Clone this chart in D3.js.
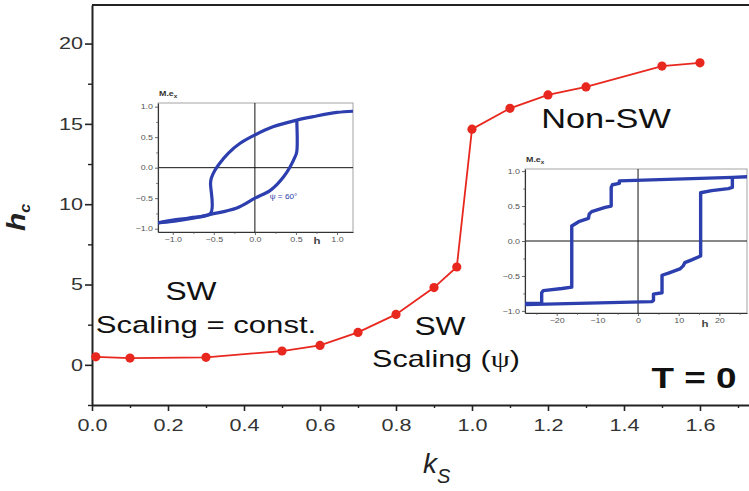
<!DOCTYPE html>
<html>
<head>
<meta charset="utf-8">
<script src="https://cdn.jsdelivr.net/npm/d3@7"></script>
<style>
  body { margin: 0; background: #fff; }
  svg { display: block; }
  text { font-family: "Liberation Sans", Arial, Helvetica, sans-serif; }
</style>
</head>
<body>
<svg id="chart" width="749" height="491"></svg>
<script>
// ---- coercive field h_c versus surface anisotropy k_S ----
const ks = [0.01, 0.1, 0.3, 0.5, 0.6, 0.7, 0.8, 0.9, 0.96, 1.0, 1.1, 1.2, 1.3, 1.5, 1.6];
const hc = [0.5, 0.42, 0.47, 0.86, 1.21, 2.02, 3.14, 4.81, 6.09, 14.67, 15.97, 16.8, 17.3, 18.6, 18.8];

const xTicks = [0, 0.2, 0.4, 0.6, 0.8, 1.0, 1.2, 1.4, 1.6];
const xMinor = [0.1, 0.3, 0.5, 0.7, 0.9, 1.1, 1.3, 1.5, 1.7];
const yTicks = [0, 5, 10, 15, 20];
const yMinor = [-2.5, 2.5, 7.5, 12.5, 17.5];

// ---- left inset: SW hysteresis loop, psi = 60 deg (h, M.e_x) ----
const loop1Down = [[1.195, 0.925], [1.0, 0.905], [0.71, 0.836], [0.51, 0.78], [0.22, 0.67], [0, 0.536],
  [-0.18, 0.40], [-0.325, 0.236], [-0.43, 0.07], [-0.49, -0.05], [-0.53, -0.17], [-0.54, -0.25],
  [-0.54, -0.748], [-0.79, -0.82], [-1.0, -0.86], [-1.18, -0.905]];
const loop1Up = [[-1.18, -0.905], [-1.0, -0.88], [-0.79, -0.835], [-0.54, -0.765], [-0.22, -0.66], [0, -0.5],
  [0.18, -0.38], [0.265, -0.28], [0.35, -0.15], [0.43, 0.016], [0.49, 0.18], [0.51, 0.26],
  [0.51, 0.78]];
const inset1XTicks = [-1.0, -0.5, 0.0, 0.5, 1.0];
const inset1YTicks = [-1.0, -0.5, 0.0, 0.5, 1.0];

// ---- right inset: stepped non-SW loop (h, M.e_x) ----
const loop2Down = [[27, 0.92], [23.2, 0.91], [-4.6, 0.86], [-4.6, 0.824], [-6.3, 0.805], [-6.6, 0.767],
  [-6.6, 0.50], [-8.1, 0.48], [-11.4, 0.42], [-12.0, 0.386], [-12.2, 0.324], [-14.6, 0.276],
  [-16.3, 0.214], [-16.3, -0.66], [-18.7, -0.68], [-23.3, -0.71], [-23.7, -0.74], [-23.7, -0.89],
  [-27.8, -0.895]];
const loop2Up = [[-27.8, -0.91], [3.4, -0.867], [3.8, -0.85], [3.8, -0.76], [5.9, -0.74], [5.9, -0.49],
  [7.5, -0.46], [10.3, -0.40], [11.1, -0.356], [11.5, -0.31], [13.2, -0.27], [15.4, -0.214],
  [15.4, 0.69], [18.1, 0.72], [22.2, 0.75], [23.2, 0.767], [23.2, 0.91]];
const inset2XTicks = [-20, -10, 0, 10, 20];
const inset2YTicks = [-1.0, -0.5, 0.0, 0.5, 1.0];

const SX = 1.27;          // horizontal widening of the lettering
const RED = "#e8281f";
const BLUE = "#2d3fae";
const INK = "#222";

const svg = d3.select("#chart");
svg.append("rect").attr("width", 749).attr("height", 491).attr("fill", "#fff");

// ---- main scales ----
const x = d3.scaleLinear().domain([0, 1.729]).range([92, 749]);
const y = d3.scaleLinear().domain([-2.5, 22.4]).range([405, 5]);

// top frame line
svg.append("line")
  .attr("x1", x(0)).attr("x2", x(1.729))
  .attr("y1", y(22.4)).attr("y2", y(22.4))
  .attr("stroke", INK).attr("stroke-width", 2);

// x axis
const gx = svg.append("g").attr("transform", `translate(0,${y(-2.5)})`)
  .call(d3.axisBottom(x).tickValues(xTicks).tickFormat(d3.format(".1f"))
    .tickSize(6).tickSizeOuter(0).tickPadding(8));
gx.select(".domain").attr("stroke", INK).attr("stroke-width", 2);
gx.selectAll(".tick line").attr("stroke", INK).attr("stroke-width", 1.6);
gx.selectAll(".tick text").attr("font-size", 17).attr("fill", "#333")
  .attr("font-family", null).attr("transform", `scale(${SX},1)`);
svg.append("g").attr("transform", `translate(0,${y(-2.5)})`)
  .call(d3.axisBottom(x).tickValues(xMinor).tickFormat("").tickSize(3).tickSizeOuter(0))
  .call(g => g.select(".domain").remove())
  .selectAll("line").attr("stroke", INK).attr("stroke-width", 1.4);

// y axis
const gy = svg.append("g").attr("transform", `translate(${x(0)},0)`)
  .call(d3.axisLeft(y).tickValues(yTicks).tickSize(7).tickSizeOuter(0).tickPadding(2));
gy.select(".domain").attr("stroke", INK).attr("stroke-width", 2);
gy.selectAll(".tick line").attr("stroke", INK).attr("stroke-width", 1.6);
gy.selectAll(".tick text").attr("font-size", 17).attr("fill", "#333")
  .attr("font-family", null).attr("x", -9 / SX).attr("transform", `scale(${SX},1)`);
svg.append("g").attr("transform", `translate(${x(0)},0)`)
  .call(d3.axisLeft(y).tickValues(yMinor).tickFormat("").tickSize(4).tickSizeOuter(0))
  .call(g => g.select(".domain").remove())
  .selectAll("line").attr("stroke", INK).attr("stroke-width", 1.4);

// axis titles
const yt = svg.append("text")
  .attr("transform", "translate(25,231) rotate(-90) scale(1.15,1)")
  .attr("fill", INK).attr("font-weight", "bold").attr("font-style", "italic");
yt.append("tspan").attr("font-size", 26).text("h");
yt.append("tspan").attr("font-size", 14).attr("dy", 5).text("c");

const xt = svg.append("text").attr("x", 423).attr("y", 473)
  .attr("fill", INK).attr("font-style", "italic");
xt.append("tspan").attr("font-size", 28).text("k");
xt.append("tspan").attr("font-size", 20).attr("dy", 10).text("S");

// ---- data curve ----
const pts = ks.map((k, i) => ({ k, h: hc[i] }));
svg.append("path").datum(pts)
  .attr("fill", "none").attr("stroke", RED).attr("stroke-width", 1.8)
  .attr("d", d3.line().x(d => x(d.k)).y(d => y(d.h)));
svg.append("g").selectAll("circle").data(pts).join("circle")
  .attr("cx", d => x(d.k)).attr("cy", d => y(d.h)).attr("r", 4.6)
  .attr("fill", RED);

// ---- annotations ----
function label(tx, ty, str, size, weight) {
  return svg.append("text")
    .attr("transform", `translate(${tx},${ty}) scale(${SX},1)`)
    .attr("text-anchor", "middle").attr("font-size", size)
    .attr("font-weight", weight || "normal").attr("fill", "#111").text(str);
}
label(191, 300, "SW", 25);
label(206, 333, "Scaling = const.", 24.5);
label(440, 335, "SW", 25);
const sc = label(446, 367, "Scaling ", 24);
sc.append("tspan").text("(");
sc.append("tspan").attr("font-family", "'Liberation Serif', 'DejaVu Serif', serif").text("\u03C8");
sc.append("tspan").text(")");
label(606, 128, "Non-SW", 27);
label(694, 388, "T = 0", 29, "bold");

// ---- insets ----
function drawInset(cfg) {
  const g = svg.append("g");
  const xs = d3.scaleLinear().domain(cfg.xDom).range([cfg.left, cfg.right]);
  const ys = d3.scaleLinear().domain(cfg.yDom).range([cfg.bottom, cfg.top]);
  const id = cfg.id;

  g.append("rect").attr("x", cfg.left).attr("y", cfg.top)
    .attr("width", cfg.right - cfg.left).attr("height", cfg.bottom - cfg.top)
    .attr("fill", "#fff").attr("stroke", "#9a9a9a").attr("stroke-width", 0.9);

  // cross hairs through the origin
  g.append("line").attr("x1", xs(0)).attr("x2", xs(0)).attr("y1", cfg.top).attr("y2", cfg.bottom)
    .attr("stroke", "#111").attr("stroke-width", 1);
  g.append("line").attr("x1", cfg.left).attr("x2", cfg.right).attr("y1", ys(0)).attr("y2", ys(0))
    .attr("stroke", "#111").attr("stroke-width", 1);

  // axes
  const ax = g.append("g").attr("transform", `translate(0,${cfg.bottom})`)
    .call(d3.axisBottom(xs).tickValues(cfg.xTicks).tickFormat(cfg.xFmt)
      .tickSize(3).tickSizeOuter(0).tickPadding(2.5));
  const ay = g.append("g").attr("transform", `translate(${cfg.left},0)`)
    .call(d3.axisLeft(ys).tickValues(cfg.yTicks).tickFormat(d3.format(".1f"))
      .tickSize(3).tickSizeOuter(0).tickPadding(2));
  [ax, ay].forEach(a => {
    a.select(".domain").attr("stroke", "#333").attr("stroke-width", 1.1);
    a.selectAll(".tick line").attr("stroke", "#444").attr("stroke-width", 0.8);
    a.selectAll(".tick text").attr("font-size", 7).attr("fill", "#555").attr("font-family", null);
  });
  ax.selectAll(".tick text").attr("transform", `scale(${SX},1)`);
  ay.selectAll(".tick text").attr("x", -5 / SX).attr("transform", `scale(${SX},1)`);

  // minor ticks
  g.append("g").attr("transform", `translate(0,${cfg.bottom})`)
    .call(d3.axisBottom(xs).tickValues(cfg.xMinor).tickFormat("").tickSize(2).tickSizeOuter(0))
    .call(s => s.select(".domain").remove())
    .selectAll("line").attr("stroke", "#555").attr("stroke-width", 0.7);
  g.append("g").attr("transform", `translate(${cfg.left},0)`)
    .call(d3.axisLeft(ys).tickValues(cfg.yMinor).tickFormat("").tickSize(2).tickSizeOuter(0))
    .call(s => s.select(".domain").remove())
    .selectAll("line").attr("stroke", "#555").attr("stroke-width", 0.7);

  // axis names
  const m = g.append("text").attr("transform", `translate(${cfg.left + 1},${cfg.top - 7}) scale(${SX},1)`)
    .attr("font-size", 7).attr("font-weight", "bold").attr("fill", "#333");
  m.append("tspan").text("M.e");
  m.append("tspan").attr("font-size", 5).attr("dy", 2).text("x");
  g.append("text").attr("transform", `translate(${cfg.hPos[0]},${cfg.hPos[1]}) scale(${SX},1)`)
    .attr("font-size", 9).attr("font-weight", "bold").attr("fill", "#444")
    .attr("text-anchor", "middle").text("h");

  // loop branches
  g.append("clipPath").attr("id", id).append("rect")
    .attr("x", cfg.left).attr("y", cfg.top)
    .attr("width", cfg.right - cfg.left).attr("height", cfg.bottom - cfg.top);
  const line = d3.line().x(d => xs(d[0])).y(d => ys(d[1])).curve(cfg.curve);
  cfg.branches.forEach(b => {
    g.append("path").datum(b).attr("clip-path", `url(#${id})`)
      .attr("fill", "none").attr("stroke", BLUE).attr("stroke-width", cfg.lw)
      .attr("stroke-linejoin", "round").attr("d", line);
  });
  return { g, xs, ys };
}

const in1 = drawInset({
  id: "clip-in1", left: 158, right: 353, top: 103, bottom: 232,
  xDom: [-1.18, 1.195], yDom: [-1.054, 1.06],
  xTicks: inset1XTicks, yTicks: inset1YTicks, xFmt: d3.format(".1f"),
  xMinor: [-0.75, -0.25, 0.25, 0.75], yMinor: [-0.75, -0.25, 0.25, 0.75],
  hPos: [317, 244], branches: [loop1Down, loop1Up], lw: 3.2,
  curve: d3.curveCatmullRom.alpha(0.5)
});
in1.g.append("text")
  .attr("transform", `translate(${in1.xs(0.18)},${in1.ys(-0.52)}) scale(${SX},1)`)
  .attr("font-size", 6.5).attr("fill", BLUE).text("\u03C8 = 60\u00B0");

drawInset({
  id: "clip-in2", left: 525, right: 747, top: 169, bottom: 313,
  xDom: [-27.8, 26.8], yDom: [-1.03, 1.03],
  xTicks: inset2XTicks, yTicks: inset2YTicks, xFmt: d3.format("d"),
  xMinor: [-25, -15, -5, 5, 15, 25], yMinor: [-0.75, -0.25, 0.25, 0.75],
  hPos: [705, 327], branches: [loop2Down, loop2Up], lw: 3.4,
  curve: d3.curveLinear
});
</script>
</body>
</html>
